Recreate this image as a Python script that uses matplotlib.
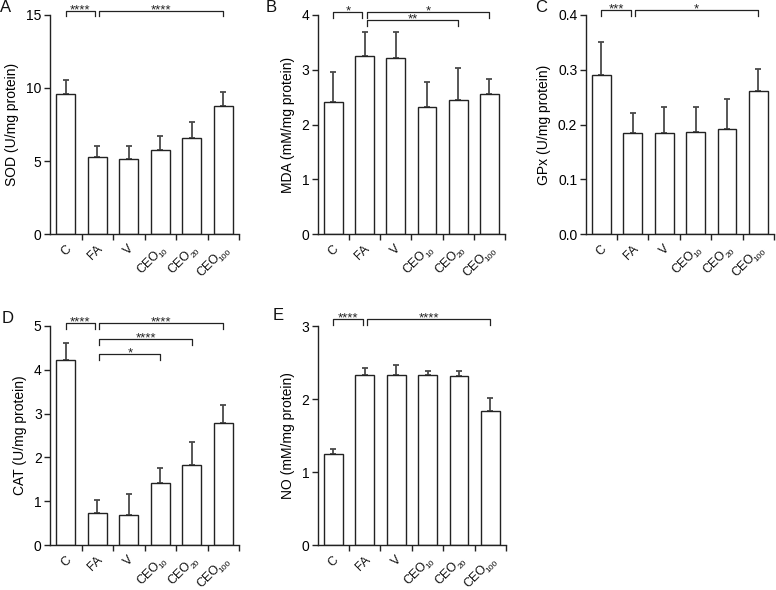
import matplotlib
matplotlib.use("Agg")
import matplotlib.pyplot as plt
import numpy as np

plt.rcParams['font.family'] = ['Liberation Sans', 'DejaVu Sans']

# groups (label + subscript)
group_main = ["C", "FA", "V", "CEO", "CEO", "CEO"]
group_sub = ["", "", "", "10", "20", "100"]

# means and upper SD for each panel
sod_mean = [9.57, 5.3, 5.12, 5.73, 6.57, 8.76]
sod_err = [0.98, 0.74, 0.92, 0.96, 1.07, 0.98]

mda_mean = [2.41, 3.25, 3.22, 2.31, 2.45, 2.56]
mda_err = [0.55, 0.43, 0.46, 0.47, 0.58, 0.26]

gpx_mean = [0.291, 0.184, 0.1845, 0.186, 0.192, 0.261]
gpx_err = [0.059, 0.0375, 0.048, 0.0465, 0.055, 0.041]

cat_mean = [4.21, 0.74, 0.69, 1.42, 1.83, 2.79]
cat_err = [0.40, 0.29, 0.48, 0.35, 0.53, 0.41]

no_mean = [1.25, 2.33, 2.33, 2.33, 2.32, 1.84]
no_err = [0.07, 0.10, 0.13, 0.06, 0.06, 0.18]

# significance brackets: (from group, to group, stars, level)
sod_sig = [(0, 1, "****", 0), (1, 5, "****", 0)]
mda_sig = [(0, 1, "*", 0), (1, 5, "*", 0), (1, 4, "**", 1)]
gpx_sig = [(0, 1, "***", 0), (1, 5, "*", 0)]
cat_sig = [(0, 1, "****", 0), (1, 5, "****", 0), (1, 4, "****", 1), (1, 3, "*", 2)]
no_sig = [(0, 1, "****", 0), (1, 5, "****", 0)]

LINE = "#222222"
ERR = "#4a4a4a"
W, H = 776, 590
FS_MAIN, FS_SUB = 9, 6


def px_axes(fig, left, top, right, bottom):
    return fig.add_axes([left / W, 1 - bottom / H, (right - left) / W, (bottom - top) / H])


def draw_xlabels(ax):
    # rotated labels with small lowered subscripts, end point near the tick
    tr = ax.get_xaxis_transform()
    c = s = np.sqrt(0.5)
    ax_, ay_, d = 4.0, -10.8, 2.5
    for i, (m, sub) in enumerate(zip(group_main, group_sub)):
        if sub:
            wsub = len(sub) * 0.48 * FS_SUB
            ax.annotate(sub, (i, 0), xycoords=tr, xytext=(ax_ + d * s, ay_ - d * c),
                        textcoords="offset points", rotation=45, rotation_mode="anchor",
                        ha="right", va="baseline", fontsize=FS_SUB, color="#111111",
                        annotation_clip=False)
            mx, my = ax_ - wsub * c, ay_ - wsub * s
        else:
            mx, my = ax_, ay_
        ax.annotate(m, (i, 0), xycoords=tr, xytext=(mx, my),
                    textcoords="offset points", rotation=45, rotation_mode="anchor",
                    ha="right", va="baseline", fontsize=FS_MAIN, color="#111111",
                    annotation_clip=False)


def draw_panel(ax, means, errs, ymax, yticks, ylabel, sigs, levels, fmt="%g"):
    x = np.arange(len(means))
    ax.bar(x, means, width=0.6, color="white", edgecolor=LINE, linewidth=1.0, zorder=2)
    ax.errorbar(x, means, yerr=[np.zeros(len(errs)), errs], fmt="none",
                ecolor=ERR, elinewidth=1.3, capsize=2.5, capthick=1.3, zorder=1)
    ax.set_xlim(-0.5, len(means) - 0.5)
    ax.set_ylim(0, ymax)
    ax.set_yticks(yticks)
    ax.set_yticklabels([fmt % t for t in yticks])
    ax.set_xticks(np.arange(len(means)) + 0.5)
    ax.set_xticklabels([])
    ax.tick_params(axis="x", length=4, width=1, color=LINE)
    ax.tick_params(axis="y", length=4, width=1, color=LINE, labelsize=10, pad=2)
    for sp in ["top", "right"]:
        ax.spines[sp].set_visible(False)
    for sp in ["left", "bottom"]:
        ax.spines[sp].set_linewidth(1.0)
        ax.spines[sp].set_color(LINE)
    ax.set_ylabel(ylabel, fontsize=10, labelpad=5)
    draw_xlabels(ax)

    # brackets (axes-fraction heights)
    tr = ax.get_xaxis_transform()
    drop = 0.027
    for a, b, lab, lev in sigs:
        xa = a + (0.07 if a == 1 else 0)
        xb = b - (0.07 if b == 1 else 0)
        yb = levels[lev]
        ax.plot([xa, xa, xb, xb], [yb - drop, yb, yb, yb - drop], color=LINE,
                lw=0.9, transform=tr, clip_on=False)
        ax.annotate(lab, ((xa + xb) / 2, yb), xycoords=tr, xytext=(0, -1.8),
                    textcoords="offset points", ha="center", va="baseline",
                    fontsize=9.5, color=LINE, annotation_clip=False)


fig = plt.figure(figsize=(7.76, 5.9), dpi=100)

axA = px_axes(fig, 50, 14.7, 239, 234.3)
draw_panel(axA, sod_mean, sod_err, 15, [0, 5, 10, 15], "SOD (U/mg protein)",
           sod_sig, [1.019])

axB = px_axes(fig, 317.7, 14.7, 505, 234.3)
draw_panel(axB, mda_mean, mda_err, 4, [0, 1, 2, 3, 4], "MDA (mM/mg protein)",
           mda_sig, [1.012, 0.974])

axC = px_axes(fig, 585.7, 14.7, 774, 234.3)
draw_panel(axC, gpx_mean, gpx_err, 0.4, [0, 0.1, 0.2, 0.3, 0.4], "GPx (U/mg protein)",
           gpx_sig, [1.021], fmt="%.1f")

axD = px_axes(fig, 50, 325.7, 239, 545.3)
draw_panel(axD, cat_mean, cat_err, 5, [0, 1, 2, 3, 4, 5], "CAT (U/mg protein)",
           cat_sig, [1.011, 0.939, 0.872])

axE = px_axes(fig, 317.7, 326, 506, 545.3)
draw_panel(axE, no_mean, no_err, 3, [0, 1, 2, 3], "NO (mM/mg protein)",
           no_sig, [1.032])

# panel letters
for lab, xp, yp in [("A", 0, 7), ("B", 266, 8), ("C", 535, 8), ("D", 2, 318), ("E", 273, 316)]:
    fig.text(xp / W, 1 - yp / H, lab, fontsize=12, ha="left", va="center", color="#111111")

fig.savefig("out.png", dpi=100)
